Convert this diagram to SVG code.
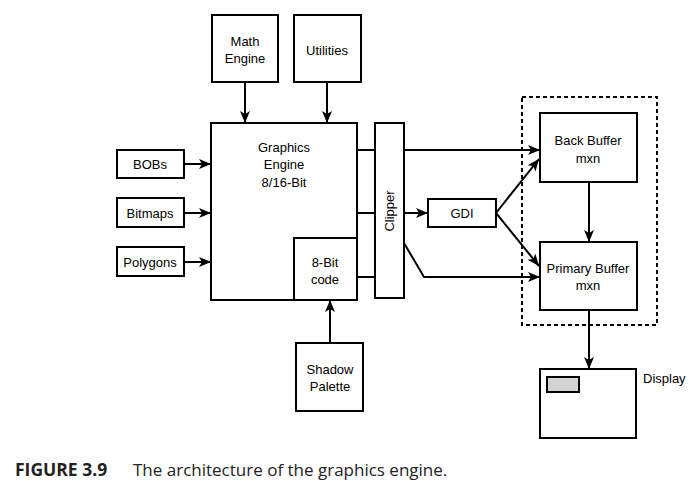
<svg xmlns="http://www.w3.org/2000/svg" width="700" height="488" viewBox="0 0 700 488">
<defs>
<style>
.box{fill:#fff;stroke:#000;stroke-width:2}
.t{font-family:"Liberation Sans",Arial,sans-serif;font-size:13px;fill:#000;text-anchor:middle}
.c line,.c polyline,.c path{stroke:#000;stroke-width:2;fill:none}
.a{marker-end:url(#ah)}
.cap{font-family:"Open Sans","Lato",sans-serif;font-size:17px;fill:#222}
</style>
<marker id="ah" markerUnits="userSpaceOnUse" markerWidth="14" markerHeight="12" refX="12" refY="5" orient="auto">
<path d="M0,0 L12,5 L0,10 L3,5 z" fill="#000"/>
</marker>
</defs>
<rect width="700" height="488" fill="#fff"/>

<g id="math-engine"><rect class="box" x="212" y="15" width="66" height="67"/><text class="t" x="245" y="46">Math</text><text class="t" x="245" y="63">Engine</text></g>
<g id="utilities"><rect class="box" x="294" y="15" width="67" height="67"/><text class="t" x="327" y="55">Utilities</text></g>
<g id="graphics-engine"><rect class="box" x="211" y="123" width="146" height="177"/><text class="t" x="284" y="152">Graphics</text><text class="t" x="284" y="169">Engine</text><text class="t" x="284" y="187">8/16-Bit</text></g>
<g id="code-8bit"><rect class="box" x="294" y="238" width="63" height="62"/><text class="t" x="325" y="267">8-Bit</text><text class="t" x="325" y="284">code</text></g>
<g id="bobs"><rect class="box" x="117" y="150" width="67" height="28"/><text class="t" x="150" y="169">BOBs</text></g>
<g id="bitmaps"><rect class="box" x="117" y="198" width="67" height="29"/><text class="t" x="150" y="218">Bitmaps</text></g>
<g id="polygons"><rect class="box" x="117" y="247" width="67" height="29"/><text class="t" x="150" y="267">Polygons</text></g>
<g id="clipper"><rect class="box" x="375" y="123" width="29" height="175"/><text class="t" transform="translate(394,211) rotate(-90)" x="0" y="0">Clipper</text></g>
<g id="gdi"><rect class="box" x="428" y="199" width="68" height="28"/><text class="t" x="462" y="218">GDI</text></g>
<g id="shadow-palette"><rect class="box" x="296" y="343" width="67" height="68"/><text class="t" x="330" y="374">Shadow</text><text class="t" x="330" y="391">Palette</text></g>
<g id="buffer-group"><rect x="522" y="97" width="135" height="228" fill="none" stroke="#000" stroke-width="2" stroke-dasharray="4,3"/></g>
<g id="back-buffer"><rect class="box" x="540" y="113" width="97" height="69"/><text class="t" x="588" y="145">Back Buffer</text><text class="t" x="588" y="163">mxn</text></g>
<g id="primary-buffer"><rect class="box" x="540" y="242" width="97" height="68"/><text class="t" x="588" y="273">Primary Buffer</text><text class="t" x="588" y="290">mxn</text></g>
<g id="display"><rect class="box" x="540" y="369" width="96" height="69"/><rect x="547" y="377" width="32" height="15" fill="#d4d4d4" stroke="#000" stroke-width="2"/><text class="t" x="643" y="383" style="text-anchor:start">Display</text></g>

<g id="connectors" class="c">
<line class="a" x1="245" y1="82" x2="245" y2="123"/>
<line class="a" x1="327" y1="82" x2="327" y2="123"/>
<line class="a" x1="184" y1="164" x2="211" y2="164"/>
<line class="a" x1="184" y1="213" x2="211" y2="213"/>
<line class="a" x1="184" y1="262" x2="211" y2="262"/>
<line x1="357" y1="150" x2="375" y2="150"/>
<line x1="357" y1="213" x2="375" y2="213"/>
<line x1="357" y1="277" x2="375" y2="277"/>
<line class="a" x1="404" y1="150" x2="540" y2="150"/>
<line class="a" x1="404" y1="213" x2="428" y2="213"/>
<polyline class="a" points="404,243 424,277 540,277"/>
<line class="a" x1="496" y1="213" x2="539" y2="159"/>
<line class="a" x1="496" y1="213" x2="539" y2="266"/>
<line class="a" x1="589" y1="182" x2="589" y2="242"/>
<line class="a" x1="589" y1="310" x2="589" y2="369"/>
<line class="a" x1="330" y1="343" x2="330" y2="300"/>
</g>

<text class="cap" x="15" y="476"><tspan font-weight="bold" font-size="17.5">FIGURE 3.9</tspan><tspan x="133">The architecture of the graphics engine.</tspan></text>
</svg>
